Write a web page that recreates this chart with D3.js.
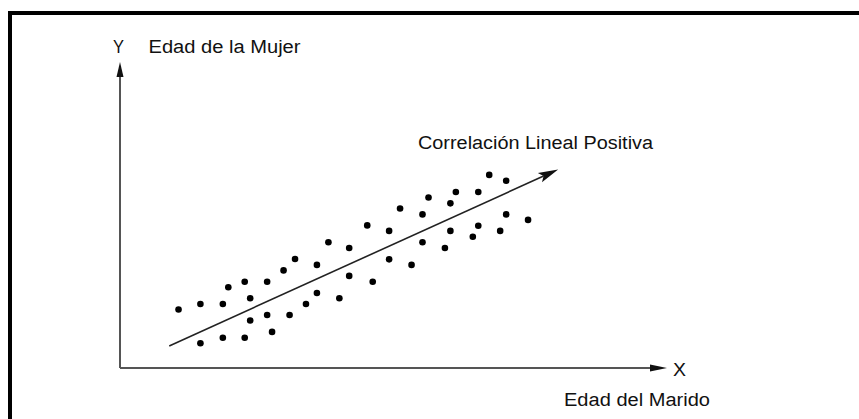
<!DOCTYPE html>
<html><head><meta charset="utf-8">
<script src="https://cdn.jsdelivr.net/npm/d3@7"></script>
<style>html,body{margin:0;padding:0;background:#fff;}svg{display:block;}</style>
</head><body>
<script>
// Data (abstract units: x = Edad del Marido, y = Edad de la Mujer)
const maridoX = [10.7,14.7,18.8,19.8,22.8,23.8,26.9,29.9,32.0,36.0,38.1,41.9,41.9,36.0,34.0,40.1,31.0,26.9,23.8,27.8,22.8,18.8,14.7,
                 46.2,49.2,53.3,45.2,49.2,51.2,55.3,56.4,55.3,59.4,60.4,61.4,60.4,64.5,65.5,65.5,67.5,70.6,70.6,69.5,74.6];
const mujerY  = [19.1,20.9,20.9,26.4,28.2,22.8,28.2,31.9,35.6,33.7,41.1,39.2,30.1,24.5,20.9,22.8,17.3,17.3,15.5,11.8,9.9,9.9,8.1,
                 28.2,35.5,33.7,46.6,44.8,52.1,50.2,55.7,41.1,39.2,53.8,57.5,44.8,42.9,57.5,46.5,63.1,61.2,50.2,44.8,48.4];
const trendX = [9.0, 80.1];
const trendY = [7.2, 64.9];
const labels = {y:"Y", yTitle:"Edad de la Mujer", x:"X", xTitle:"Edad del Marido", trend:"Correlación Lineal Positiva"};

const W = 859, H = 419;
const svg = d3.select("body").append("svg").attr("width", W).attr("height", H);
const x = d3.scaleLinear().domain([0,100]).range([120,667]);
const y = d3.scaleLinear().domain([0,100]).range([368,62]);
const font = "'Liberation Sans', Arial, sans-serif";

// frame
svg.append("path").attr("d","M10,419 V13 H859").attr("fill","none").attr("stroke","#000").attr("stroke-width",4);

// axes
const axCol = "#555";
svg.append("line").attr("x1",x(0)).attr("y1",y(0)).attr("x2",x(0)).attr("y2",y(100)+12)
  .attr("stroke",axCol).attr("stroke-width",2);
svg.append("line").attr("x1",x(0)).attr("y1",y(0)).attr("x2",x(100)-14).attr("y2",y(0))
  .attr("stroke",axCol).attr("stroke-width",2);
// arrow heads
svg.append("path").attr("d",`M${x(0)},${y(100)} L${x(0)-3.5},${y(100)+15} L${x(0)+3.5},${y(100)+15} Z`).attr("fill","#111");
svg.append("path").attr("d",`M${x(100)},${y(0)} L${x(100)-17},${y(0)-3.5} L${x(100)-17},${y(0)+3.5} Z`).attr("fill","#111");

// trend line with arrow
const x1 = x(trendX[0]), y1 = y(trendY[0]), x2 = x(trendX[1]), y2 = y(trendY[1]);
const ang = Math.atan2(y2-y1, x2-x1);
const L = 20, hw = 5;
const bx = x2 - L*Math.cos(ang), by = y2 - L*Math.sin(ang);
svg.append("line").attr("x1",x1).attr("y1",y1).attr("x2",bx+4*Math.cos(ang)).attr("y2",by+4*Math.sin(ang))
  .attr("stroke","#222").attr("stroke-width",1.6);
svg.append("path").attr("d",`M${x2},${y2} L${bx - hw*Math.sin(ang)},${by + hw*Math.cos(ang)} L${bx+4*Math.cos(ang)},${by+4*Math.sin(ang)} L${bx + hw*Math.sin(ang)},${by - hw*Math.cos(ang)} Z`)
  .attr("fill","#111");

// points
svg.append("g").selectAll("circle").data(d3.range(maridoX.length)).join("circle")
  .attr("cx",i=>x(maridoX[i])).attr("cy",i=>y(mujerY[i])).attr("r",3.3).attr("fill","#000");

// texts
function txt(t, px, py, len){
  const e = svg.append("text").attr("x",px).attr("y",py).text(t)
    .attr("font-family",font).attr("font-size",18).attr("fill","#111");
  if(len) e.attr("textLength",len).attr("lengthAdjust","spacingAndGlyphs");
  return e;
}
txt(labels.y, 113, 53, 11);
txt(labels.yTitle, 148.5, 53, 152);
txt(labels.trend, 418, 149, 235);
txt(labels.x, 673, 376, 13);
txt(labels.xTitle, 564, 406, 146);
</script>
</body></html>
